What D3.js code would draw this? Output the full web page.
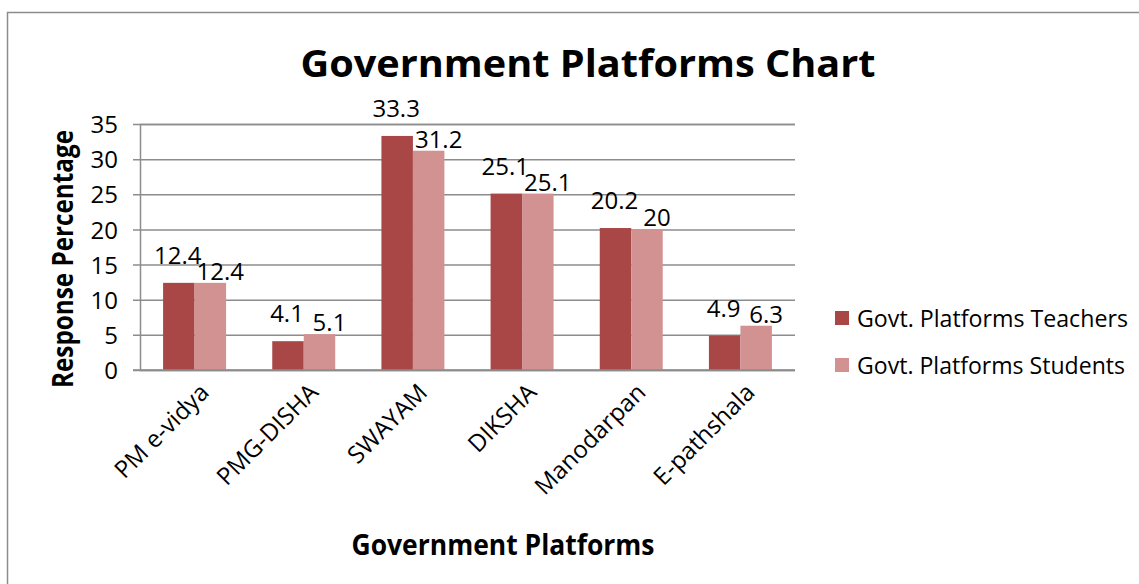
<!DOCTYPE html>
<html lang="en">
<head>
  <meta charset="UTF-8">
  <title>Government Platforms Chart</title>
  <script src="https://d3js.org/d3.v7.min.js"></script>
  <style>
    body { margin: 0; background: #fff; }
    text { font-family: "Open Sans", sans-serif; fill: #000; }
  </style>
</head>
<body>
  <div id="container"></div>
  <script>
    // chart data
    const categories = ['PM e-vidya', 'PMG-DISHA', 'SWAYAM', 'DIKSHA', 'Manodarpan', 'E-pathshala']
    const seriesNames = ['Govt. Platforms Teachers', 'Govt. Platforms Students']
    const teachers = [12.4, 4.1, 33.3, 25.1, 20.2, 4.9]
    const students = [12.4, 5.1, 31.2, 25.1, 20, 6.3]
    const yTicks = [0, 5, 10, 15, 20, 25, 30, 35]
    const colors = ['#a94747', '#d39292']

    const width = 1139, height = 584
    const plotLeft = 140, plotRight = 795, plotTop = 124, plotBottom = 370

    const svg = d3.select('#container').append('svg')
      .attr('width', width)
      .attr('height', height)

    // outer frame of the chart
    svg.append('rect')
      .attr('x', 7.5).attr('y', 12.5)
      .attr('width', 1150).attr('height', 620)
      .attr('fill', 'none')
      .attr('stroke', '#8c8c8c')
      .attr('stroke-width', 1.5)

    const x = d3.scaleBand()
      .domain(categories)
      .range([plotLeft, plotRight])
      .paddingInner(0.423)
      .paddingOuter(0.2115)

    const xSub = d3.scaleBand()
      .domain(seriesNames)
      .range([0, x.bandwidth()])

    const y = d3.scaleLinear()
      .domain([0, 35])
      .range([plotBottom, plotTop])

    // gridlines + y axis
    const yAxis = d3.axisLeft(y)
      .tickValues(yTicks)
      .tickSize(-(plotRight - plotLeft))
      .tickPadding(22)
    const gy = svg.append('g')
      .attr('transform', `translate(${plotLeft},0)`)
      .call(yAxis)
    gy.select('.domain').attr('stroke', '#8c8c8c').attr('stroke-width', 1.5)
    gy.selectAll('.tick line')
      .attr('x1', -7)
      .attr('stroke', '#8c8c8c')
      .attr('stroke-width', 1.5)
    gy.selectAll('.tick text')
      .attr('font-size', 24)
      .attr('font-family', '"Open Sans", sans-serif')
      .attr('fill', '#000')
      .attr('dy', '0.36em')

    const series = [teachers, students]
    const groups = svg.selectAll('g.series')
      .data(series)
      .enter()
      .append('g')
        .attr('class', 'series')
        .attr('fill', (d, i) => colors[i])

    groups.selectAll('rect')
      .data((d, i) => d.map((v, j) => ({ v: v, cat: categories[j], s: seriesNames[i] })))
      .enter()
      .append('rect')
        .attr('x', d => x(d.cat) + xSub(d.s))
        .attr('y', d => y(d.v))
        .attr('width', xSub.bandwidth())
        .attr('height', d => y(0) - y(d.v))

    // x axis line
    svg.append('line')
      .attr('x1', plotLeft - 7).attr('x2', plotRight)
      .attr('y1', plotBottom).attr('y2', plotBottom)
      .attr('stroke', '#8c8c8c')
      .attr('stroke-width', 1.5)

    // data labels
    groups.selectAll('text.lbl')
      .data((d, i) => d.map((v, j) => ({ v: v, cat: categories[j], s: seriesNames[i], i: i })))
      .enter()
      .append('text')
        .attr('class', 'lbl')
        .attr('text-anchor', 'middle')
        .attr('font-size', 24)
        .style('fill', '#000')
        .attr('x', d => x(d.cat) + xSub(d.s) + xSub.bandwidth() / 2 + (d.i ? 10 : -1))
        .attr('y', d => y(d.v) - (d.i ? 3 : 19))
        .text(d => d.v)

    // category labels
    svg.selectAll('text.cat')
      .data(categories)
      .enter()
      .append('text')
        .attr('class', 'cat')
        .attr('text-anchor', 'end')
        .attr('font-size', 24)
        .attr('transform', d => `translate(${x(d) + x.bandwidth() / 2 + 4},${plotBottom + 12}) rotate(-45)`)
        .attr('dy', '0.7em')
        .text(d => d)

    // titles
    svg.append('text')
      .attr('x', 588).attr('y', 77)
      .attr('text-anchor', 'middle')
      .attr('font-size', 37)
      .attr('font-weight', 'bold')
      .attr('textLength', 575)
      .attr('lengthAdjust', 'spacingAndGlyphs')
      .text('Government Platforms Chart')

    svg.append('text')
      .attr('transform', 'translate(73,259) rotate(-90)')
      .attr('text-anchor', 'middle')
      .attr('font-size', 28)
      .attr('font-weight', 'bold')
      .attr('textLength', 258)
      .attr('lengthAdjust', 'spacingAndGlyphs')
      .text('Response Percentage')

    svg.append('text')
      .attr('x', 503).attr('y', 555)
      .attr('text-anchor', 'middle')
      .attr('font-size', 28)
      .attr('font-weight', 'bold')
      .attr('textLength', 303)
      .attr('lengthAdjust', 'spacingAndGlyphs')
      .text('Government Platforms')

    // legend
    const legend = svg.selectAll('g.legend')
      .data(seriesNames)
      .enter()
      .append('g')
        .attr('class', 'legend')
        .attr('transform', (d, i) => `translate(835,${311 + i * 47})`)
    legend.append('rect')
      .attr('width', 14).attr('height', 14)
      .attr('fill', (d, i) => colors[i])
    legend.append('text')
      .attr('x', 22).attr('y', 16)
      .attr('font-size', 24)
      .attr('textLength', (d, i) => i ? 268 : 271)
      .attr('lengthAdjust', 'spacingAndGlyphs')
      .text(d => d)
  </script>
</body>
</html>
